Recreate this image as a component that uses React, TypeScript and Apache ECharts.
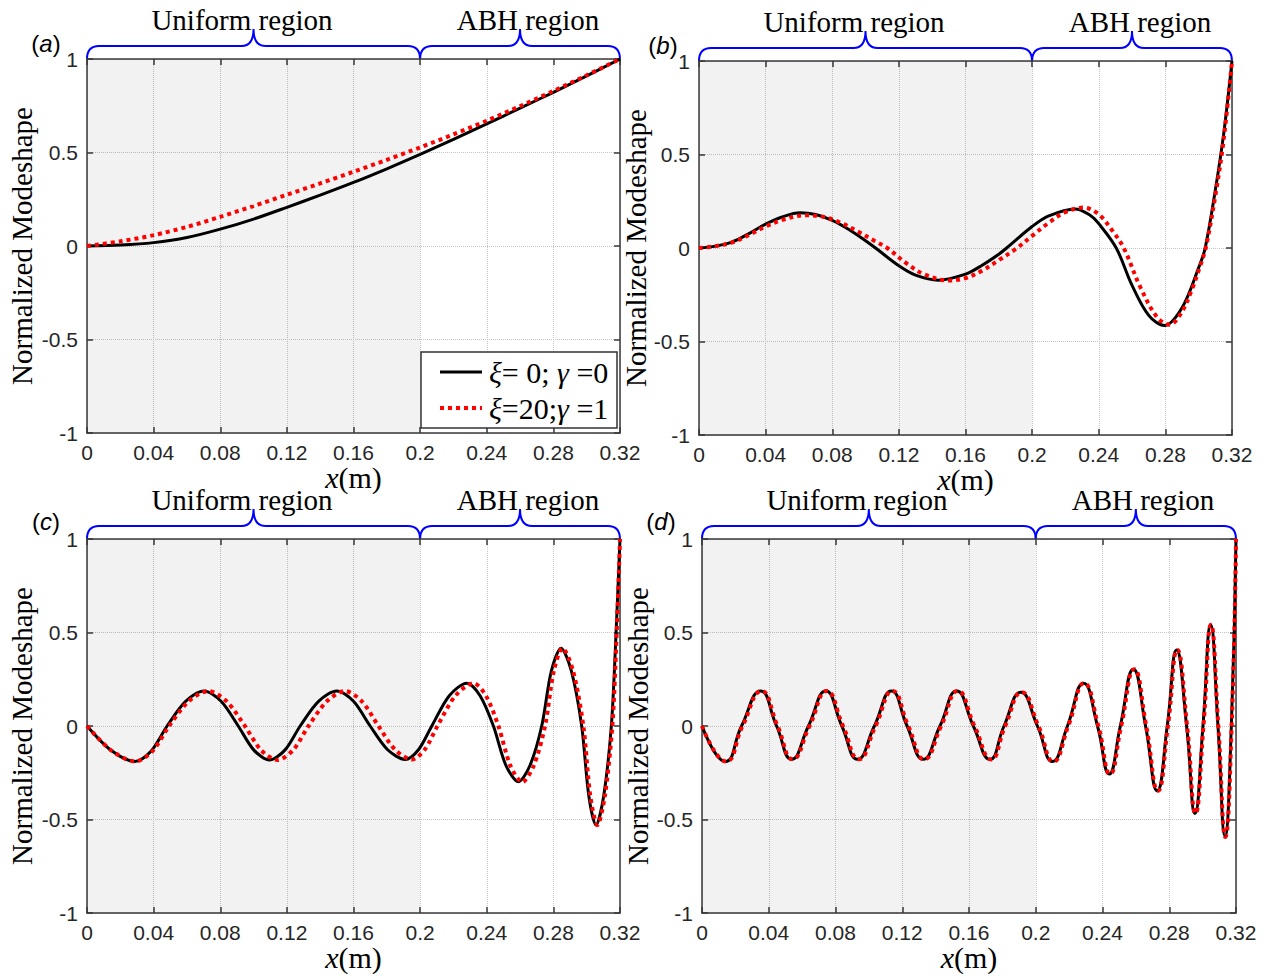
import React, { useEffect, useRef } from 'react';
import * as echarts from 'echarts';

// ---------- data ----------
const xMin = 0;
const xMax = 0.32;
const xInterval = 0.04;
const yMin = -1;
const yMax = 1;
const yInterval = 0.5;
const uniformEnd = 0.2;

const panelLetters = ['a', 'b', 'c', 'd'];
const regionLabels = ['Uniform region', 'ABH region'];
const yAxisTitle = 'Normalized Modeshape';
const legendLabels = ['{i|ξ}= 0; {i|γ} =0', '{i|ξ}=20;{i|γ} =1'];

const aBlack = [[0, 0], [0.02, 0.005], [0.04, 0.018], [0.06, 0.045], [0.08, 0.09], [0.1, 0.144], [0.12, 0.207], [0.14, 0.272], [0.16, 0.34], [0.18, 0.413], [0.2, 0.49], [0.22, 0.57], [0.24, 0.653], [0.26, 0.737], [0.28, 0.822], [0.3, 0.91], [0.32, 1]];
const aRed = [[0, 0], [0.02, 0.025], [0.04, 0.058], [0.06, 0.102], [0.08, 0.156], [0.1, 0.214], [0.12, 0.274], [0.14, 0.335], [0.16, 0.397], [0.18, 0.461], [0.2, 0.527], [0.22, 0.597], [0.24, 0.67], [0.26, 0.748], [0.28, 0.829], [0.3, 0.913], [0.32, 1]];

const bBlack = [[0, 0], [0.01, 0.01], [0.02, 0.033], [0.03, 0.077], [0.04, 0.128], [0.05, 0.166], [0.0606, 0.188], [0.07, 0.179], [0.08, 0.148], [0.09, 0.099], [0.1, 0.039], [0.106, 0], [0.12, -0.095], [0.13, -0.145], [0.1437, -0.172], [0.16, -0.14], [0.17, -0.092], [0.18, -0.033], [0.1847, 0], [0.2, 0.115], [0.21, 0.172], [0.2258, 0.209], [0.235, 0.174], [0.24, 0.13], [0.2505, 0], [0.26, -0.2], [0.27, -0.36], [0.2794, -0.415], [0.29, -0.32], [0.3, -0.105], [0.3039, 0], [0.31, 0.31], [0.315, 0.61], [0.32, 1]];
const bRed = [[0, 0], [0.01, 0.01], [0.02, 0.03], [0.03, 0.07], [0.04, 0.115], [0.05, 0.15], [0.0638, 0.175], [0.075, 0.166], [0.085, 0.135], [0.095, 0.09], [0.105, 0.04], [0.113, 0], [0.125, -0.085], [0.135, -0.14], [0.15, -0.174], [0.16, -0.161], [0.17, -0.121], [0.18, -0.065], [0.191, 0], [0.2, 0.065], [0.21, 0.135], [0.22, 0.192], [0.231, 0.216], [0.24, 0.18], [0.248, 0.095], [0.255, 0], [0.265, -0.21], [0.275, -0.37], [0.2826, -0.41], [0.29, -0.34], [0.296, -0.22], [0.3, -0.12], [0.3042, 0], [0.31, 0.28], [0.315, 0.58], [0.32, 1]];

const cBlack = [[0, 0], [0.0144, -0.13], [0.0287, -0.19], [0.0384, -0.135], [0.0481, 0], [0.0592, 0.132], [0.0702, 0.187], [0.0805, 0.132], [0.0908, 0], [0.1002, -0.129], [0.1095, -0.182], [0.1188, -0.129], [0.128, 0], [0.139, 0.132], [0.15, 0.187], [0.16, 0.132], [0.17, 0], [0.1805, -0.127], [0.191, -0.179], [0.199, -0.127], [0.207, 0], [0.2175, 0.162], [0.228, 0.229], [0.236, 0.162], [0.244, 0], [0.2515, -0.21], [0.259, -0.298], [0.266, -0.21], [0.273, 0], [0.2788, 0.295], [0.2846, 0.416], [0.2908, 0.295], [0.297, 0], [0.3013, -0.375], [0.3056, -0.53], [0.3102, -0.375], [0.3148, 0], [0.3174, 0.45], [0.32, 1]];
const cRed = [[0, 0], [0.0145, -0.13], [0.029, -0.19], [0.0392, -0.135], [0.0493, 0], [0.061, 0.132], [0.0728, 0.187], [0.0838, 0.132], [0.0948, 0], [0.1045, -0.129], [0.1143, -0.182], [0.1237, -0.129], [0.133, 0], [0.144, 0.132], [0.155, 0.187], [0.165, 0.132], [0.175, 0], [0.185, -0.127], [0.195, -0.179], [0.2027, -0.127], [0.2104, 0], [0.2212, 0.162], [0.232, 0.229], [0.2395, 0.162], [0.247, 0], [0.2542, -0.212], [0.2613, -0.3], [0.2682, -0.212], [0.275, 0], [0.2803, 0.295], [0.2855, 0.416], [0.2918, 0.295], [0.298, 0], [0.3022, -0.375], [0.3064, -0.53], [0.3109, -0.375], [0.3154, 0], [0.3178, 0.45], [0.32, 1]];

const dBlack = [[0, 0], [0.014, -0.19], [0.0237, 0], [0.0351, 0.187], [0.0447, 0], [0.0537, -0.178], [0.0638, 0], [0.0742, 0.187], [0.0838, 0], [0.0932, -0.178], [0.1033, 0], [0.1135, 0.187], [0.1229, 0], [0.1325, -0.178], [0.1426, 0], [0.1526, 0.187], [0.1626, 0], [0.1726, -0.179], [0.181, 0], [0.191, 0.18], [0.201, 0], [0.21, -0.19], [0.219, 0], [0.2286, 0.229], [0.237, 0], [0.244, -0.257], [0.2507, 0], [0.2585, 0.304], [0.2658, 0], [0.2728, -0.346], [0.2788, 0], [0.2844, 0.407], [0.2904, 0], [0.2954, -0.468], [0.3002, 0], [0.3048, 0.541], [0.3092, 0], [0.3134, -0.589], [0.3172, 0], [0.32, 1]];
const dRed = [[0, 0], [0.0145, -0.19], [0.0243, 0], [0.0357, 0.187], [0.0453, 0], [0.0543, -0.178], [0.0644, 0], [0.0748, 0.187], [0.0845, 0], [0.094, -0.178], [0.104, 0], [0.1142, 0.187], [0.1236, 0], [0.1332, -0.178], [0.1433, 0], [0.1533, 0.187], [0.1633, 0], [0.1733, -0.179], [0.1817, 0], [0.1916, 0.18], [0.2016, 0], [0.2106, -0.19], [0.2195, 0], [0.229, 0.229], [0.2375, 0], [0.2445, -0.257], [0.2512, 0], [0.259, 0.304], [0.2662, 0], [0.2732, -0.346], [0.2792, 0], [0.2848, 0.407], [0.2907, 0], [0.2957, -0.468], [0.3005, 0], [0.305, 0.541], [0.3094, 0], [0.3136, -0.593], [0.3174, 0], [0.32, 1]];

const blackSeries = [aBlack, bBlack, cBlack, dBlack];
const redSeries = [aRed, bRed, cRed, dRed];

// ---------- layout ----------
const panels = [
  { L: 87, T: 59, W: 533, H: 374, lab: [46, 43], yl: 22, smooth: 0.3 },
  { L: 699, T: 61, W: 533, H: 374, lab: [663, 45], yl: 636, smooth: 0.35 },
  { L: 87, T: 539, W: 533, H: 374, lab: [46, 521], yl: 22, smooth: 0.3 },
  { L: 702, T: 539, W: 534, H: 374, lab: [661, 521], yl: 638, smooth: 0.5 },
];

const SERIF = '"Liberation Serif", "Times New Roman", serif';
const SANS = '"Liberation Sans", Arial, sans-serif';
const BLUE = '#0000ff';

function bracePath(W: number) {
  const m = W / 2;
  return `M0 30 Q0 17 12 17 L${m - 12} 17 Q${m} 17 ${m} 0 Q${m} 17 ${m + 12} 17 L${W - 12} 17 Q${W} 17 ${W} 30`;
}
echarts.graphic.registerShape('braceU', echarts.graphic.extendPath(bracePath(333), {}));
echarts.graphic.registerShape('braceA', echarts.graphic.extendPath(bracePath(200), {}));

function buildOption() {
  const grid: any[] = [];
  const xAxis: any[] = [];
  const yAxis: any[] = [];
  const series: any[] = [];
  const graphic: any[] = [];

  const axisLine = { show: true, onZero: false, lineStyle: { color: '#3a3a3a', width: 1.5 } };
  const axisTick = { show: true, inside: true, length: 6, lineStyle: { color: '#3a3a3a', width: 1.5 } };
  const splitLine = { show: true, lineStyle: { color: '#c4c4c4', type: 'dotted', width: 1 } };
  const tickLabel = { show: true, margin: 9, fontFamily: SANS, fontSize: 21, color: '#262626' };

  panels.forEach((p, i) => {
    grid.push({ left: p.L, top: p.T, width: p.W, height: p.H, containLabel: false });
    xAxis.push({
      type: 'value', gridIndex: i, position: 'bottom', min: xMin, max: xMax, interval: xInterval,
      axisLine, axisTick, splitLine, axisLabel: tickLabel,
    });
    xAxis.push({
      type: 'value', gridIndex: i, position: 'top', min: xMin, max: xMax, interval: xInterval,
      axisLine, axisTick, splitLine: { show: false }, axisLabel: { show: false },
    });
    yAxis.push({
      type: 'value', gridIndex: i, position: 'left', min: yMin, max: yMax, interval: yInterval,
      axisLine, axisTick, splitLine, axisLabel: tickLabel,
    });
    yAxis.push({
      type: 'value', gridIndex: i, position: 'right', min: yMin, max: yMax, interval: yInterval,
      axisLine, axisTick, splitLine: { show: false }, axisLabel: { show: false },
    });

    series.push({
      name: 'xi=0;gamma=0', type: 'line', xAxisIndex: 2 * i, yAxisIndex: 2 * i,
      data: blackSeries[i], smooth: p.smooth, symbol: 'none', showSymbol: false, z: 3,
      lineStyle: { color: '#000000', width: 3 },
      markArea: {
        silent: true, itemStyle: { color: 'rgba(0,0,0,0.05)' },
        data: [[{ xAxis: xMin }, { xAxis: uniformEnd }]],
      },
    });
    series.push({
      name: 'xi=20;gamma=1', type: 'line', xAxisIndex: 2 * i, yAxisIndex: 2 * i,
      data: redSeries[i], smooth: p.smooth, symbol: 'none', showSymbol: false, z: 4,
      lineStyle: { color: '#ff0000', width: 4, type: [4, 4], cap: 'butt' },
    });

    // braces
    const splitX = p.L + (uniformEnd / xMax) * p.W;
    graphic.push({ type: 'braceU', x: p.L, y: p.T - 30, scaleX: (splitX - p.L) / 333, silent: true, style: { stroke: BLUE, fill: 'none', lineWidth: 2 } });
    graphic.push({ type: 'braceA', x: splitX, y: p.T - 30, scaleX: (p.L + p.W - splitX) / 200, silent: true, style: { stroke: BLUE, fill: 'none', lineWidth: 2 } });
    graphic.push({
      type: 'text', x: p.L + 155, y: p.T - 39, silent: true,
      style: { text: regionLabels[0], fontFamily: SERIF, fontSize: 29, fill: '#000', align: 'center', verticalAlign: 'middle', textAlign: 'center', textVerticalAlign: 'middle' },
    });
    graphic.push({
      type: 'text', x: p.L + 441, y: p.T - 39, silent: true,
      style: { text: regionLabels[1], fontFamily: SERIF, fontSize: 29, fill: '#000', align: 'center', verticalAlign: 'middle', textAlign: 'center', textVerticalAlign: 'middle' },
    });
    // panel letter
    graphic.push({
      type: 'text', x: p.lab[0], y: p.lab[1], silent: true,
      style: {
        text: '({i|' + panelLetters[i] + '})', fontFamily: SANS, fontSize: 24, fill: '#000',
        align: 'center', verticalAlign: 'middle', textAlign: 'center', textVerticalAlign: 'middle',
        rich: { i: { fontFamily: SANS, fontSize: 24, fontStyle: 'italic', fill: '#000' } },
      },
    });
    // y title
    graphic.push({
      type: 'text', x: p.yl, y: p.T + p.H / 2, rotation: Math.PI / 2, silent: true,
      style: { text: yAxisTitle, fontFamily: SERIF, fontSize: 29, fill: '#000', align: 'center', verticalAlign: 'middle', textAlign: 'center', textVerticalAlign: 'middle' },
    });
    // x title
    graphic.push({
      type: 'text', x: p.L + p.W / 2, y: p.T + p.H + 44, silent: true,
      style: {
        text: '{i|x}(m)', fontFamily: SERIF, fontSize: 30, fill: '#000',
        align: 'center', verticalAlign: 'middle', textAlign: 'center', textVerticalAlign: 'middle',
        rich: { i: { fontFamily: SERIF, fontSize: 30, fontStyle: 'italic', fill: '#000' } },
      },
    });
  });

  // legend in panel (a)
  const lx = 421, ly = 352, lw = 196, lh = 76;
  graphic.push({ type: 'rect', shape: { x: lx, y: ly, width: lw, height: lh }, silent: true, z: 100, style: { fill: '#ffffff', stroke: '#333333', lineWidth: 1.5 } });
  graphic.push({ type: 'line', shape: { x1: 440, y1: 372, x2: 482, y2: 372 }, silent: true, z: 101, style: { stroke: '#000', lineWidth: 3 } });
  graphic.push({ type: 'line', shape: { x1: 440, y1: 408, x2: 482, y2: 408 }, silent: true, z: 101, style: { stroke: '#ff0000', lineWidth: 4, lineDash: [4, 4] } });
  [372, 408].forEach((yy, k) => {
    graphic.push({
      type: 'text', x: 489, y: yy, silent: true, z: 101,
      style: {
        text: legendLabels[k], fontFamily: SERIF, fontSize: 30, fill: '#000',
        align: 'left', verticalAlign: 'middle', textAlign: 'left', textVerticalAlign: 'middle',
        rich: { i: { fontFamily: SERIF, fontSize: 30, fontStyle: 'italic', fill: '#000' } },
      },
    });
  });

  return { animation: false, backgroundColor: '#ffffff', grid, xAxis, yAxis, series, graphic };
}

export default function App() {
  const ref = useRef<HTMLDivElement>(null);
  useEffect(() => {
    if (!ref.current) return;
    const chart = echarts.init(ref.current, undefined, { renderer: 'svg' });
    chart.setOption(buildOption() as any);
    return () => chart.dispose();
  }, []);
  return <div ref={ref} style={{ position: 'absolute', left: 0, top: 0, width: 1265, height: 979 }} />;
}
